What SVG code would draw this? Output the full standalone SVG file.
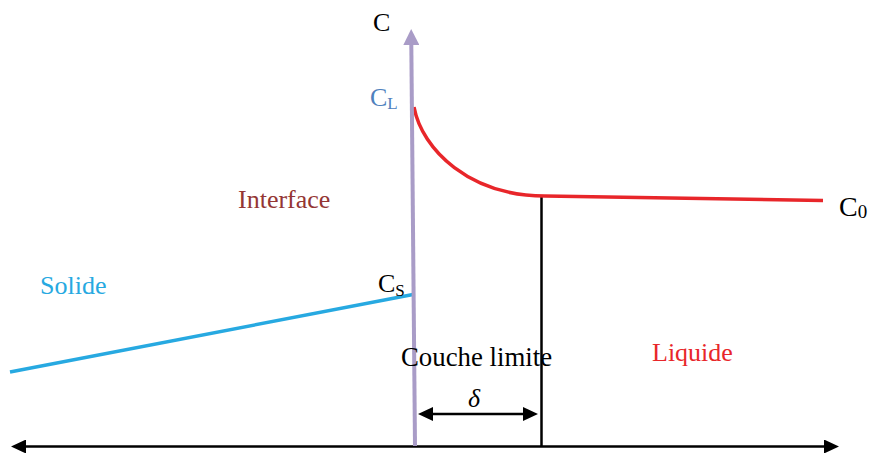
<svg xmlns="http://www.w3.org/2000/svg" width="871" height="453" viewBox="0 0 871 453">
<style>
text{font-family:"Liberation Serif","Times New Roman",serif;font-size:26px}
.sub{font-size:17px}
.ax{stroke:#000;stroke-width:2.5;fill:none}
</style>
<defs>
<marker id="ah" markerUnits="userSpaceOnUse" viewBox="0 0 15 14" refX="1" refY="7" markerWidth="15" markerHeight="14" orient="auto-start-reverse">
<path d="M0,0 L15,7 L0,14 z" fill="#000"/>
</marker>
<marker id="ahp" markerUnits="userSpaceOnUse" viewBox="0 0 16 16" refX="1" refY="8" markerWidth="16" markerHeight="16" orient="auto">
<path d="M0,0 L16,8 L0,16 z" fill="#a99cc7"/>
</marker>
</defs>
<rect width="871" height="453" fill="#fff"/>
<g id="connectors">
<line id="h-axis" class="ax" x1="25" y1="446.5" x2="825" y2="446.5" marker-start="url(#ah)" marker-end="url(#ah)"/>
<line id="boundary" class="ax" x1="541.5" y1="196" x2="541.5" y2="446"/>
<line id="delta-arrow" class="ax" x1="432" y1="414" x2="524" y2="414" marker-start="url(#ah)" marker-end="url(#ah)"/>
<path id="solid-line" d="M10,372 L413,294.5" stroke="#27a9e1" stroke-width="3.5" fill="none"/>
<path id="liquid-curve" d="M414,107 C422,150 470,196 545,196 L823,200.5" stroke="#e8262a" stroke-width="3.5" fill="none"/>
<line id="c-axis" x1="415" y1="446" x2="411.3" y2="44" stroke="#a99cc7" stroke-width="4" marker-end="url(#ahp)"/>
</g>
<g id="label-c"><text x="373" y="31">C</text></g>
<g id="label-cl"><text x="370" y="106" fill="#4f81bd">C<tspan class="sub" dy="3">L</tspan></text></g>
<g id="label-cs"><text x="378" y="292">C<tspan class="sub" dy="4">S</tspan></text></g>
<g id="label-c0"><text x="839" y="216" style="font-size:28px">C<tspan style="font-size:19px" dy="2">0</tspan></text></g>
<g id="label-solide"><text x="40" y="294" fill="#27a9e1">Solide</text></g>
<g id="label-interface"><text x="238" y="208" fill="#943634">Interface</text></g>
<g id="label-couche"><text x="401" y="366" style="font-size:26.8px">Couche limite</text></g>
<g id="label-liquide"><text x="652" y="361" fill="#e8262a">Liquide</text></g>
<g id="label-delta"><text x="468" y="407" font-style="italic">δ</text></g>
</svg>
